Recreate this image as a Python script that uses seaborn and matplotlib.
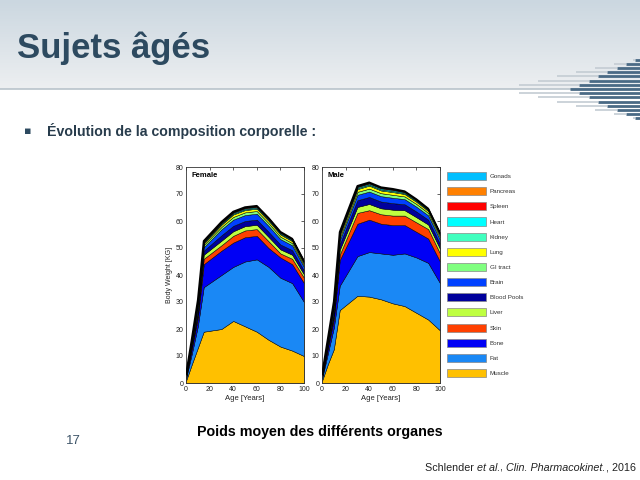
import numpy as np
import matplotlib
matplotlib.use("Agg")
import matplotlib.pyplot as plt
import seaborn as sns
from matplotlib.patches import Patch

# ---------------- data ----------------
AGES = [0, 5, 10, 15, 30, 40, 50, 60, 70, 80, 90, 100]
ORGANS = ["Muscle", "Fat", "Bone", "Skin", "Liver", "Blood Pools", "Brain",
          "GI tract", "Lung", "Kidney", "Heart", "Spleen", "Pancreas", "Gonads"]
COLORS = ["#FFC000", "#1A88F5", "#0000F5", "#FF4000", "#BFFF40", "#00009C",
          "#0040FF", "#80FF80", "#FFFF00", "#40FFBF", "#00FFFF", "#FF0000",
          "#FF8000", "#00BFFF"]

F_MUSCLE = [0.8, 7, 13, 19, 20, 23, 21, 19, 16, 13.5, 12, 10]
F_FAT = [0.8, 4, 8, 16.5, 20, 20, 24, 26.8, 27, 25.5, 25, 20]
F_BONE = [0.4, 2, 3, 8.5, 9, 9, 9, 8.7, 7, 7.5, 7, 7]
F_SKIN = [0.2, 0.5, 1, 2, 2, 2.5, 2.5, 2.5, 2.5, 1.5, 2, 2]
F_LIVER = [0.15, 0.5, 0.9, 1.5, 1.7, 1.7, 1.6, 1.6, 1.6, 1.5, 1.5, 1.2]
F_BLOOD = [0.2, 0.7, 1.3, 1.5, 2.0, 2.0, 1.9, 1.9, 1.9, 1.8, 1.7, 1.4]
F_BRAIN = [0.3, 0.9, 1.4, 1.3, 2.2, 2.3, 2.2, 2.2, 2.2, 2.0, 1.8, 1.4]
F_GI = [0.1, 0.4, 0.7, 0.8, 0.9, 1.0, 1.0, 1.0, 1.0, 0.9, 0.8, 0.7]
F_LUNG = [0.08, 0.3, 0.6, 0.6, 0.8, 0.9, 0.85, 0.85, 0.85, 0.8, 0.75, 0.6]
F_KIDNEY = [0.03, 0.1, 0.3, 0.3, 0.35, 0.35, 0.35, 0.35, 0.35, 0.35, 0.3, 0.3]
F_HEART = [0.03, 0.1, 0.3, 0.3, 0.35, 0.35, 0.35, 0.35, 0.35, 0.35, 0.3, 0.3]
F_SPLEEN = [0.02, 0.05, 0.1, 0.15, 0.2, 0.2, 0.2, 0.2, 0.2, 0.15, 0.15, 0.15]
F_PANCREAS = [0.01, 0.04, 0.08, 0.1, 0.12, 0.12, 0.12, 0.12, 0.12, 0.1, 0.1, 0.1]
F_GONADS = [0.005, 0.01, 0.02, 0.05, 0.05, 0.05, 0.05, 0.05, 0.05, 0.05, 0.05, 0.05]

M_MUSCLE = [0.8, 7, 12.5, 27, 32.3, 32, 31, 29.5, 28.5, 26, 23.5, 19.5]
M_FAT = [0.8, 4, 8, 9, 14.7, 16.5, 17, 18, 19.5, 20.5, 21, 17.5]
M_BONE = [0.4, 2, 3, 9.5, 12, 12, 11, 11, 10.5, 9.5, 9, 8]
M_SKIN = [0.2, 0.5, 1, 2, 4, 3.5, 3.5, 3.5, 3.5, 3.5, 3.5, 3]
M_LIVER = [0.15, 0.5, 0.9, 1.8, 2.2, 2.3, 2.2, 2.2, 2.0, 1.9, 1.7, 1.7]
M_BLOOD = [0.2, 0.7, 1.3, 2.0, 2.5, 2.6, 2.5, 2.4, 2.2, 2.1, 1.8, 1.8]
M_BRAIN = [0.3, 0.9, 1.4, 1.6, 2.0, 2.0, 2.0, 2.0, 1.9, 1.8, 1.6, 1.6]
M_GI = [0.1, 0.4, 0.7, 1.0, 1.1, 1.1, 1.1, 1.1, 1.0, 1.0, 0.9, 0.9]
M_LUNG = [0.08, 0.3, 0.6, 0.9, 1.0, 1.1, 1.0, 1.0, 0.9, 0.8, 0.7, 0.7]
M_KIDNEY = [0.03, 0.1, 0.3, 0.35, 0.4, 0.4, 0.4, 0.4, 0.35, 0.35, 0.3, 0.3]
M_HEART = [0.03, 0.1, 0.3, 0.35, 0.4, 0.4, 0.4, 0.4, 0.35, 0.3, 0.3, 0.3]
M_SPLEEN = [0.02, 0.05, 0.1, 0.2, 0.2, 0.2, 0.2, 0.2, 0.15, 0.15, 0.15, 0.15]
M_PANCREAS = [0.01, 0.04, 0.08, 0.15, 0.15, 0.15, 0.15, 0.15, 0.12, 0.12, 0.1, 0.1]
M_GONADS = [0.005, 0.02, 0.03, 0.05, 0.05, 0.05, 0.05, 0.05, 0.05, 0.05, 0.05, 0.05]

FEMALE = [F_MUSCLE, F_FAT, F_BONE, F_SKIN, F_LIVER, F_BLOOD, F_BRAIN, F_GI,
          F_LUNG, F_KIDNEY, F_HEART, F_SPLEEN, F_PANCREAS, F_GONADS]
MALE = [M_MUSCLE, M_FAT, M_BONE, M_SKIN, M_LIVER, M_BLOOD, M_BRAIN, M_GI,
        M_LUNG, M_KIDNEY, M_HEART, M_SPLEEN, M_PANCREAS, M_GONADS]

X_TICKS = [0, 20, 40, 60, 80, 100]
Y_TICKS = [0, 10, 20, 30, 40, 50, 60, 70, 80]

# ---------------- style ----------------
sns.set_theme(style="white")
plt.rcParams["font.family"] = ["Liberation Sans", "DejaVu Sans"]

fig = plt.figure(figsize=(6.4, 4.8), dpi=100)
fig.patch.set_facecolor("white")

# slide background / decorations
bg = fig.add_axes([0, 0, 1, 1], zorder=-10)
bg.set_xlim(0, 640)
bg.set_ylim(480, 0)
bg.axis("off")
top_c = np.array([203, 215, 224]) / 255
bot_c = np.array([237, 239, 241]) / 255
t = np.linspace(0, 1, 100)[:, None, None]
grad = top_c * (1 - t) + bot_c * t
grad = np.repeat(grad, 2, axis=1)
bg.imshow(grad, extent=[0, 640, 89, 0], aspect="auto", zorder=0)
bg.plot([0, 640], [89, 89], color="#b9c3cb", lw=1.2, zorder=1)
for k in range(-7, 8):
    yk = 89 + 4.17 * k
    xd = 570 + 9.3 * abs(k)
    if k != 0:
        xg = 500 + 19 * abs(k)
        if xg < xd:
            bg.plot([xg, xd], [yk, yk], color="#c4ccd3", lw=1.2, zorder=2,
                    solid_capstyle="butt")
    bg.plot([xd, 640], [yk, yk], color="#4a6a85", lw=2.0, zorder=3,
            solid_capstyle="butt")

bg.text(17, 48, "Sujets âgés", fontsize=25, fontweight="bold",
        color="#2d4a60", va="center", ha="left")
bg.text(24, 131, "▪", fontsize=8, color="#2d4a60", va="center", ha="left",
        family=["DejaVu Sans"])
bg.text(47, 131, "Évolution de la composition corporelle :", fontsize=10.2,
        fontweight="bold", color="#283c4c", va="center", ha="left")
bg.text(66, 441, "17", fontsize=9.5, color="#3d5468", va="center", ha="left")
bg.text(197, 432, "Poids moyen des différents organes", fontsize=10.3,
        fontweight="bold", color="black", va="center", ha="left")

cit_parts = [("Schlender ", "normal"), ("et al.", "italic"), (", ", "normal"),
             ("Clin. Pharmacokinet.", "italic"), (", 2016", "normal")]
prev = None
for txt, sty in cit_parts:
    if prev is None:
        prev = bg.text(425, 473, txt, fontsize=7.75, style=sty, color="#222222",
                       va="bottom", ha="left")
    else:
        prev = bg.annotate(txt, xy=(1, 0), xycoords=prev, fontsize=7.75,
                           style=sty, color="#222222", va="bottom", ha="left")

# ---------------- charts ----------------
W = 118 / 640
H = 216 / 480
B = 1 - 383 / 480
axes_specs = [(186 / 640, FEMALE, "Female", True), (322 / 640, MALE, "Male", False)]
for left, data, name, ylab in axes_specs:
    ax = fig.add_axes([left, B, W, H])
    ax.set_facecolor("white")
    ax.stackplot(AGES, *data, colors=COLORS, edgecolor="black", linewidth=0.35)
    total = np.sum(np.array(data), axis=0)
    sns.lineplot(x=AGES, y=total, color="black", lw=1.3, ax=ax, zorder=5)
    ax.set_xlim(0, 100)
    ax.set_ylim(0, 80)
    ax.set_xticks(X_TICKS)
    ax.set_yticks(Y_TICKS)
    ax.tick_params(direction="in", top=True, right=True, length=2, width=0.5,
                   labelsize=5, pad=2, colors="#222222")
    for sp in ax.spines.values():
        sp.set_color("#333333")
        sp.set_linewidth(0.6)
    ax.set_xlabel("Age [Years]", fontsize=5.5, labelpad=1.5, color="#222222")
    if ylab:
        ax.set_ylabel("Body Weight [KG]", fontsize=5, labelpad=2, color="#222222")
    ax.text(0.05, 0.975, name, transform=ax.transAxes, fontsize=5.5,
            fontweight="bold", va="top", ha="left", color="black")

handles = [Patch(facecolor=c, edgecolor="#888888", linewidth=0.5, label=n)
           for n, c in zip(ORGANS[::-1], COLORS[::-1])]
fig.legend(handles=handles, loc="upper left",
           bbox_to_anchor=(447 / 640, 1 - 172 / 480), frameon=False,
           fontsize=4.5, handlelength=6.24, handleheight=1.6,
           labelspacing=1.14, handletextpad=0.6, borderaxespad=0, borderpad=0,
           labelcolor="#333333")

fig.savefig("out.png", dpi=100, facecolor="white")
